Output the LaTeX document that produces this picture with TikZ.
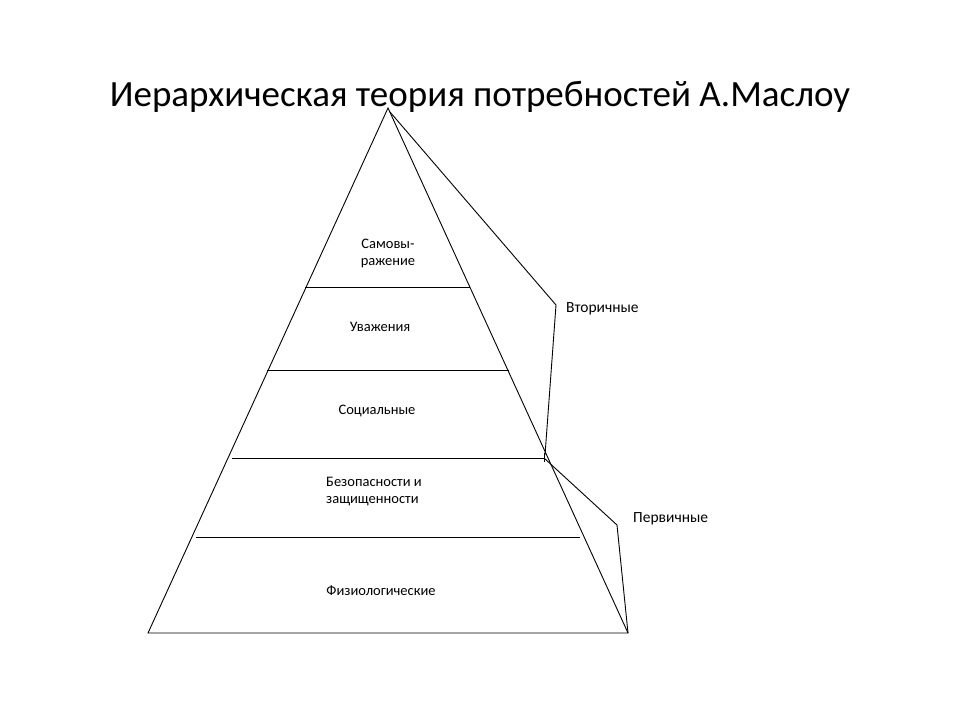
\documentclass[tikz,border=0pt]{standalone}
\usepackage{fontspec}
\setmainfont{Carlito}
\usetikzlibrary{positioning,calc}
\tikzset{edge/.style={
            draw,
            line width=0.9pt,
            line join=miter
        },
        level/.style={
            draw,
            line width=0.9pt
        },
        brace/.style={
            draw,
            line width=0.9pt,
            line join=round
        },
        tag/.style={
            font=\fontsize{15.5}{18}\selectfont,
            inner sep=0pt
        }
    }

\begin{document}
\begin{tikzpicture}
        [x=1pt,y=-1pt,label/.style={align=center,font=\fontsize{14.5}{17}\selectfont,inner sep=0pt}]

        \useasboundingbox (0,0) rectangle (960,720);

        \node[font=\fontsize{37}{42}\selectfont,inner sep=0pt] (title) at (480,97) {Иерархическая теория потребностей А.Маслоу};

        \coordinate (top) at (388,108);
        \coordinate (bl) at (148,633);
        \coordinate (br) at (628,633);
        \draw[edge] (top) -- (bl) -- (br) -- cycle;

        \draw[level] (305,287) -- (470,287);
        \draw[level] (267,370) -- (509,370);
        \draw[level] (232,458) -- (544,458);
        \draw[level] (544,453) -- (544,462);
        \draw[level] (196,537) -- (580,537);

        \node[label] (self) at (388,253) {Самовы-\\ражение};
        \node[label] (esteem) at (380,327) {Уважения};
        \node[label] (social) at (377,411) {Социальные};
        \node[label,align=left,anchor=west] (safety) at (326,492) {Безопасности и\\защищенности};
        \node[label] (body) at (381,591) {Физиологические};

        \coordinate (vtop) at (390,112);
        \coordinate (vmid) at (556,305);
        \coordinate (cross) at (544,458);
        \draw[brace] (vtop) -- (vmid) -- (545,455);
        \draw[brace] (cross) -- (617,525) coordinate (pmid) -- (br);

        \node[tag,anchor=west] (second) at (566,309) {Вторичные};
        \node[tag,anchor=west] (first) at (633,519) {Первичные};

    \end{tikzpicture}
\end{document}
